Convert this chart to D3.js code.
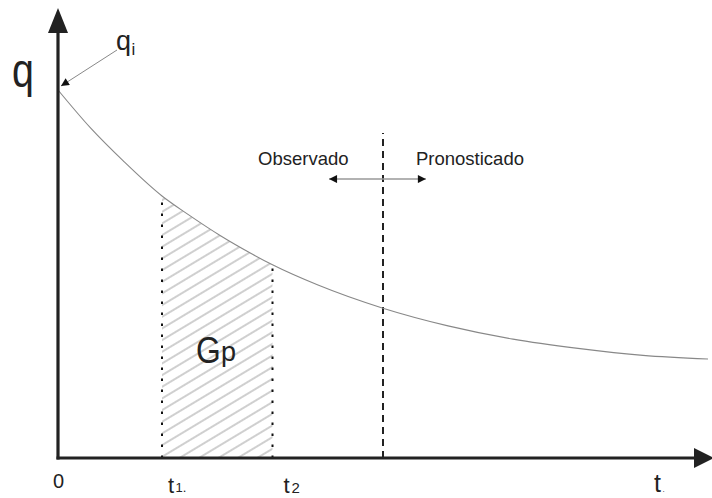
<!DOCTYPE html>
<html>
<head>
<meta charset="utf-8">
<script src="https://cdn.jsdelivr.net/npm/d3@7"></script>
<style>
  body { margin: 0; background: #fff; }
  svg { display: block; font-family: "Liberation Sans", Arial, sans-serif; }
</style>
</head>
<body>
<div id="chart"></div>
<script>
// decline curve (t in arbitrary units, q as % of qi)
var tValues = [0, 0.5, 1, 1.6, 2, 2.5, 3, 3.3, 4, 5, 6, 7, 8, 9, 10];
var qValues = [100, 89.7, 80.8, 71.2, 66.2, 60.4, 55.3, 52.5, 47.0, 40.7, 35.9, 32.3, 29.8, 27.9, 26.9];

// marked times
var t1 = 1.6, t2 = 3.3, tSplit = 5;
var tArrow = [4.17, 5.66];   // Observado <-> Pronosticado arrow
var qArrow = 75.8;
var qSplitTop = 88.3;

var data = tValues.map(function(t, i) { return { t: t, q: qValues[i] }; });

var width = 712, height = 498;

var x = d3.scaleLinear().domain([0, 10]).range([58, 708]);
var y = d3.scaleLinear().domain([0, 100]).range([458, 90]);

var svg = d3.select("#chart").append("svg")
  .attr("width", width)
  .attr("height", height)
  .attr("viewBox", [0, 0, width, height]);

var defs = svg.append("defs");

// diagonal hatch
defs.append("pattern")
  .attr("id", "hatch")
  .attr("patternUnits", "userSpaceOnUse")
  .attr("width", 10).attr("height", 10)
  .attr("patternTransform", "rotate(-31)")
  .append("line")
  .attr("x1", 0).attr("y1", 5).attr("x2", 10).attr("y2", 5)
  .attr("stroke", "#888").attr("stroke-width", 0.8);

defs.append("clipPath").attr("id", "band")
  .append("rect")
  .attr("x", x(t1)).attr("y", 0)
  .attr("width", x(t2) - x(t1)).attr("height", y(0));

defs.append("marker")
  .attr("id", "head")
  .attr("viewBox", "0 0 10 10")
  .attr("refX", 10).attr("refY", 5)
  .attr("markerUnits", "userSpaceOnUse")
  .attr("markerWidth", 9).attr("markerHeight", 8)
  .attr("orient", "auto-start-reverse")
  .append("path")
  .attr("d", "M0,0L10,5L0,10Z")
  .attr("fill", "#111");

var line = d3.line()
  .x(function(d) { return x(d.t); })
  .y(function(d) { return y(d.q); })
  .curve(d3.curveMonotoneX);

var area = d3.area()
  .x(function(d) { return x(d.t); })
  .y0(y(0))
  .y1(function(d) { return y(d.q); })
  .curve(d3.curveMonotoneX);

// hatched Gp region
svg.append("path")
  .datum(data)
  .attr("d", area)
  .attr("fill", "url(#hatch)")
  .attr("clip-path", "url(#band)");

// dotted bounds at t1 and t2
var interp = function(t) {
  for (var i = 1; i < data.length; i++) {
    if (data[i].t >= t) {
      var a = data[i - 1], b = data[i];
      return a.q + (b.q - a.q) * (t - a.t) / (b.t - a.t);
    }
  }
};
[t1, t2].forEach(function(t) {
  svg.append("line")
    .attr("x1", x(t)).attr("x2", x(t))
    .attr("y1", y(0)).attr("y2", y(interp(t)))
    .attr("stroke", "#111")
    .attr("stroke-width", 2)
    .attr("stroke-dasharray", "2.5,8.5");
});

// observed / forecast split
svg.append("line")
  .attr("x1", x(tSplit)).attr("x2", x(tSplit))
  .attr("y1", y(0)).attr("y2", y(qSplitTop))
  .attr("stroke", "#222")
  .attr("stroke-width", 2)
  .attr("stroke-dasharray", "7,5");

// curve
svg.append("path")
  .datum(data)
  .attr("d", line)
  .attr("fill", "none")
  .attr("stroke", "#888")
  .attr("stroke-width", 1.1);

// double arrow
svg.append("line")
  .attr("x1", x(tArrow[0])).attr("x2", x(tArrow[1]))
  .attr("y1", y(qArrow)).attr("y2", y(qArrow))
  .attr("stroke", "#999")
  .attr("stroke-width", 1.5)
  .attr("marker-start", "url(#head)")
  .attr("marker-end", "url(#head)");

// axes
var axisColor = "#222";
var x0 = x(0), y0 = y(0);
svg.append("line")
  .attr("x1", x0).attr("x2", x0)
  .attr("y1", y0 + 1.5).attr("y2", 28)
  .attr("stroke", axisColor).attr("stroke-width", 3.2);
svg.append("line")
  .attr("x1", x0 - 1.5).attr("x2", 700)
  .attr("y1", y0).attr("y2", y0)
  .attr("stroke", axisColor).attr("stroke-width", 3.2);
svg.append("path")
  .attr("d", "M" + x0 + ",8L" + (x0 + 10) + ",33L" + (x0 - 10) + ",33Z")
  .attr("fill", axisColor);
svg.append("path")
  .attr("d", "M714," + y0 + "L694," + (y0 - 10) + "L694," + (y0 + 10) + "Z")
  .attr("fill", axisColor);

// qi pointer
svg.append("line")
  .attr("x1", 117).attr("y1", 50)
  .attr("x2", x0 + 3).attr("y2", y(100) - 4)
  .attr("stroke", "#888")
  .attr("stroke-width", 1)
  .attr("marker-end", "url(#head)");

// labels
var txt = "#222";
svg.append("text").attr("transform", "translate(12,87) scale(0.82,1)")
  .attr("font-size", 48).attr("fill", txt).text("q");
svg.append("text").attr("x", 116).attr("y", 50)
  .attr("font-size", 27).attr("fill", txt).text("q");
svg.append("text").attr("x", 131.5).attr("y", 55)
  .attr("font-size", 17).attr("fill", txt).text("i");

svg.append("text").attr("transform", "translate(196,363) scale(0.86,1)")
  .attr("font-size", 37).attr("fill", txt).text("G");
svg.append("text").attr("x", 221).attr("y", 361)
  .attr("font-size", 27).attr("fill", txt).text("p");

svg.append("text").attr("x", 258).attr("y", 165)
  .attr("font-size", 18.5).attr("fill", txt).text("Observado");
svg.append("text").attr("x", 416).attr("y", 165)
  .attr("font-size", 18.5).attr("fill", txt).text("Pronosticado");

svg.append("text").attr("x", x0 - 5).attr("y", 488)
  .attr("font-size", 20).attr("fill", txt).text("0");

svg.append("text").attr("x", x(t1) + 6).attr("y", 493)
  .attr("font-size", 22).attr("fill", txt).text("t");
svg.append("text").attr("x", x(t1) + 13.5).attr("y", 492)
  .attr("font-size", 13).attr("fill", txt).text("1.");

svg.append("text").attr("x", x(t2) + 11).attr("y", 493)
  .attr("font-size", 22).attr("fill", txt).text("t");
svg.append("text").attr("x", x(t2) + 19).attr("y", 493)
  .attr("font-size", 15).attr("fill", txt).text("2");

svg.append("text").attr("x", 654).attr("y", 492)
  .attr("font-size", 25).attr("fill", txt).text("t");
svg.append("text").attr("x", 662.5).attr("y", 492)
  .attr("font-size", 8).attr("fill", txt).text(".");
</script>
</body>
</html>
